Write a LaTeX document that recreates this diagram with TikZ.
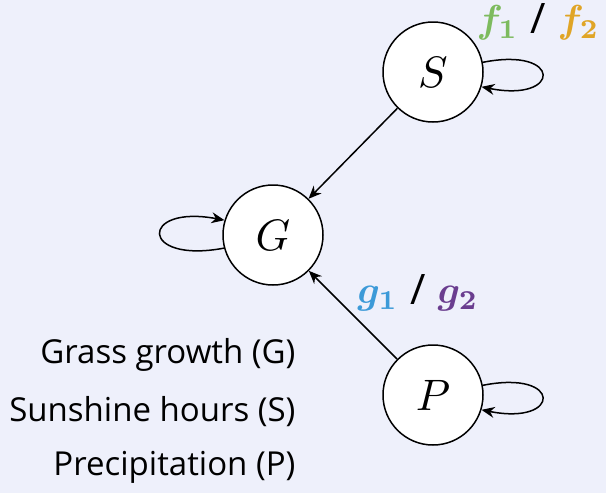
\documentclass[tikz,border=0pt]{standalone}
\usepackage{amsmath}
\usepackage{bm}
\usepackage{graphicx}
\usepackage{fontspec}
\setmainfont{Open Sans}
\usetikzlibrary{arrows.meta}
\definecolor{bg}{HTML}{EEF0FB}
\definecolor{fone}{HTML}{7DBB5E}
\definecolor{ftwo}{HTML}{E0A526}
\definecolor{gone}{HTML}{3C9AD8}
\definecolor{gtwo}{HTML}{6A3D8F}
\newcommand{\bigmath}[1]{\scalebox{4.4}{$#1$}}
\newcommand{\labmath}[1]{\scalebox{3.9}{$#1$}}
\newcommand{\slashsep}{\hspace{12pt}\raisebox{-1pt}{\scalebox{4.2}{/}}\hspace{12pt}}
\tikzset{
  var/.style={circle, draw, fill=white, line width=1.5pt, minimum size=100pt, inner sep=0pt, font=\normalsize},
  edge/.style={-{Stealth[length=13pt,width=11pt]}, line width=1.5pt},
  legend/.style={anchor=east, font=\fontsize{33}{38}\selectfont},
  lab/.style={font=\normalsize, inner sep=0pt}
}
\begin{document}
\begin{tikzpicture}[x=1pt,y=-1pt]
\fill[bg] (0,0) rectangle (606,493);
\useasboundingbox (0,0) rectangle (606,493);
\node[var] (S) at (433,72) {\bigmath{S}};
\node[var] (G) at (273,235) {\bigmath{G}};
\node[var] (P) at (433,395) {\bigmath{P}};
\draw[edge] (S) -- (G);
\draw[edge] (P) -- (G);
\draw[edge] (S.11) .. controls +(80,-16) and +(80,16) .. (S.-17);
\draw[edge] (P.11) .. controls +(80,-16) and +(80,16) .. (P.-17);
\draw[edge] (G.195) .. controls +(-85,16) and +(-85,-16) .. (G.163);
\node[lab] (fl) at (538,22) {\labmath{\color{fone}\bm{f_1}}\slashsep\labmath{\color{ftwo}\bm{f_2}}};
\node[lab] (gl) at (418,293) {\labmath{\color{gone}\bm{g_1}}\slashsep\labmath{\color{gtwo}\bm{g_2}}};
\node[legend] (l1) at (299,355) {Grass growth (G)};
\node[legend] (l2) at (299,412) {Sunshine hours (S)};
\node[legend] (l3) at (299,467) {Precipitation (P)};
\end{tikzpicture}
\end{document}
